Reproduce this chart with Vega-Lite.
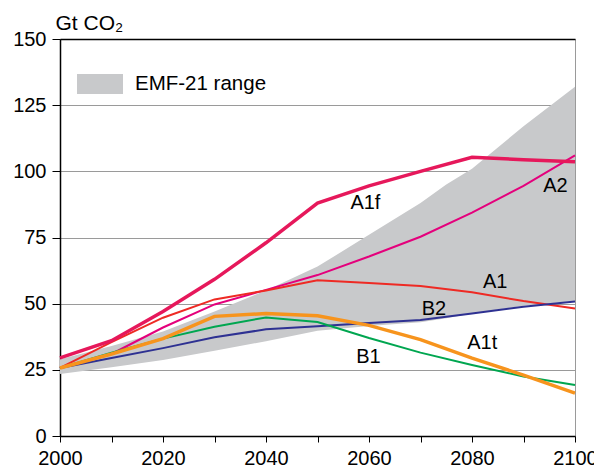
{
  "$schema": "https://vega.github.io/schema/vega-lite/v6.json",
  "width": 515,
  "height": 397,
  "autosize": {"type": "none"},
  "padding": {"left": 60, "top": 39, "right": 19, "bottom": 36},
  "background": "white",
  "config": {
    "font": "Liberation Sans",
    "view": {"stroke": "#9a9a9a", "strokeWidth": 1},
    "axis": {"labelFont": "Liberation Sans", "titleFont": "Liberation Sans", "labelColor": "black", "titleColor": "black"}
  },
  "datasets": {
    "band": [
      {"year": 2000, "lo": 23.4, "hi": 29},
      {"year": 2010, "lo": 26, "hi": 34},
      {"year": 2020, "lo": 28.7, "hi": 39.5},
      {"year": 2030, "lo": 32.2, "hi": 47},
      {"year": 2040, "lo": 35.8, "hi": 55},
      {"year": 2050, "lo": 39.8, "hi": 64},
      {"year": 2060, "lo": 41.6, "hi": 76},
      {"year": 2070, "lo": 43, "hi": 88},
      {"year": 2075, "lo": 44.5, "hi": 95},
      {"year": 2080, "lo": 46.3, "hi": 101},
      {"year": 2090, "lo": 49.2, "hi": 117},
      {"year": 2100, "lo": 51, "hi": 132}
    ],
    "lines": [
      {"series": "A1f", "year": 2000, "value": 29.5},
      {"series": "A1f", "year": 2010, "value": 36},
      {"series": "A1f", "year": 2020, "value": 47},
      {"series": "A1f", "year": 2030, "value": 59.2},
      {"series": "A1f", "year": 2040, "value": 73},
      {"series": "A1f", "year": 2050, "value": 88},
      {"series": "A1f", "year": 2060, "value": 94.5},
      {"series": "A1f", "year": 2070, "value": 100},
      {"series": "A1f", "year": 2080, "value": 105.3},
      {"series": "A1f", "year": 2090, "value": 104.4},
      {"series": "A1f", "year": 2100, "value": 103.6},
      {"series": "A2", "year": 2000, "value": 25.7},
      {"series": "A2", "year": 2010, "value": 31},
      {"series": "A2", "year": 2020, "value": 41},
      {"series": "A2", "year": 2030, "value": 49.7},
      {"series": "A2", "year": 2040, "value": 55.2},
      {"series": "A2", "year": 2050, "value": 60.8},
      {"series": "A2", "year": 2060, "value": 67.8},
      {"series": "A2", "year": 2070, "value": 75.3},
      {"series": "A2", "year": 2080, "value": 84.4},
      {"series": "A2", "year": 2090, "value": 94.5},
      {"series": "A2", "year": 2100, "value": 106},
      {"series": "A1", "year": 2000, "value": 25.7},
      {"series": "A1", "year": 2010, "value": 35.5},
      {"series": "A1", "year": 2020, "value": 44.7},
      {"series": "A1", "year": 2030, "value": 51.6},
      {"series": "A1", "year": 2040, "value": 55},
      {"series": "A1", "year": 2050, "value": 58.8},
      {"series": "A1", "year": 2060, "value": 57.8},
      {"series": "A1", "year": 2070, "value": 56.7},
      {"series": "A1", "year": 2080, "value": 54.3},
      {"series": "A1", "year": 2090, "value": 51},
      {"series": "A1", "year": 2100, "value": 48.2},
      {"series": "B2", "year": 2000, "value": 25.7},
      {"series": "B2", "year": 2010, "value": 29.5},
      {"series": "B2", "year": 2020, "value": 33.2},
      {"series": "B2", "year": 2030, "value": 37.3},
      {"series": "B2", "year": 2040, "value": 40.3},
      {"series": "B2", "year": 2050, "value": 41.5},
      {"series": "B2", "year": 2060, "value": 42.7},
      {"series": "B2", "year": 2070, "value": 43.8},
      {"series": "B2", "year": 2080, "value": 46.3},
      {"series": "B2", "year": 2090, "value": 48.8},
      {"series": "B2", "year": 2100, "value": 50.8},
      {"series": "B1", "year": 2000, "value": 25.7},
      {"series": "B1", "year": 2010, "value": 31.5},
      {"series": "B1", "year": 2020, "value": 36.8},
      {"series": "B1", "year": 2030, "value": 41.3},
      {"series": "B1", "year": 2040, "value": 44.8},
      {"series": "B1", "year": 2050, "value": 43.1},
      {"series": "B1", "year": 2060, "value": 37},
      {"series": "B1", "year": 2070, "value": 31.5},
      {"series": "B1", "year": 2080, "value": 26.8},
      {"series": "B1", "year": 2090, "value": 22.5},
      {"series": "B1", "year": 2100, "value": 19.3},
      {"series": "A1t", "year": 2000, "value": 25.7},
      {"series": "A1t", "year": 2010, "value": 31},
      {"series": "A1t", "year": 2020, "value": 36.8},
      {"series": "A1t", "year": 2030, "value": 45.2},
      {"series": "A1t", "year": 2040, "value": 46.3},
      {"series": "A1t", "year": 2050, "value": 45.4},
      {"series": "A1t", "year": 2060, "value": 41.8},
      {"series": "A1t", "year": 2070, "value": 36.4},
      {"series": "A1t", "year": 2080, "value": 29.4},
      {"series": "A1t", "year": 2090, "value": 23},
      {"series": "A1t", "year": 2100, "value": 16.2}
    ],
    "labels": [
      {"label": "A1f", "year": 2059.3, "value": 88.2},
      {"label": "A2", "year": 2096.2, "value": 94.5},
      {"label": "A1", "year": 2084.5, "value": 58.2},
      {"label": "B2", "year": 2072.6, "value": 48},
      {"label": "A1t", "year": 2082, "value": 35.1},
      {"label": "B1", "year": 2059.9, "value": 29.7}
    ]
  },
  "encoding": {
    "x": {
      "field": "year", "type": "quantitative",
      "scale": {"domain": [2000, 2100], "nice": false, "zero": false},
      "axis": {
        "title": null, "values": [2000, 2010, 2020, 2030, 2040, 2050, 2060, 2070, 2080, 2090, 2100],
        "labelExpr": "datum.value % 20 === 0 ? datum.label : ''",
        "format": "d", "grid": false,
        "domainColor": "black", "domainWidth": 1.5,
        "tickColor": "black", "tickSize": 6, "tickWidth": 1,
        "labelFontSize": 20, "labelPadding": 6, "labelFlush": false, "labelOverlap": false
      }
    }
  },
  "layer": [
    {
      "data": {"name": "band"},
      "mark": {"type": "area", "opacity": 1},
      "encoding": {
        "y": {
          "field": "hi", "type": "quantitative",
          "scale": {"domain": [0, 150], "nice": false},
          "axis": {
            "title": "Gt CO₂", "titleAngle": 0, "titleAlign": "left", "titleBaseline": "alphabetic",
            "titleX": -5, "titleY": -10, "titleFontSize": 21, "titleFontWeight": "normal",
            "values": [0, 25, 50, 75, 100, 125, 150],
            "grid": true,
            "gridColor": {"condition": {"test": "datum.value === 150", "value": "black"}, "value": "#9a9a9a"},
            "gridWidth": {"condition": {"test": "datum.value === 150", "value": 1.5}, "value": 1},
            "domainColor": "black", "domainWidth": 1.5,
            "tickColor": "black", "tickSize": 8, "tickWidth": 1,
            "labelFontSize": 20, "labelPadding": 6
          }
        },
        "y2": {"field": "lo"},
        "fill": {
          "datum": "EMF-21 range", "type": "nominal",
          "scale": {"range": ["#c8c9cb"]},
          "legend": {
            "title": null, "orient": "none", "legendX": 17, "legendY": 22,
            "symbolType": "M-1,-0.435H1V0.435H-1Z", "symbolSize": 2116,
            "symbolStrokeWidth": 0, "symbolOpacity": 1,
            "labelFontSize": 20.5, "labelOffset": 12, "labelFont": "Liberation Sans", "labelColor": "black",
            "padding": 0
          }
        }
      }
    },
    {
      "data": {"name": "lines"},
      "transform": [{"filter": "datum.series !== 'A1f' && datum.series !== 'A1t'"}],
      "mark": {"type": "line", "strokeWidth": 2},
      "encoding": {
        "y": {"field": "value", "type": "quantitative"},
        "color": {
          "field": "series", "type": "nominal", "legend": null,
          "scale": {"domain": ["A1f", "A2", "A1", "B2", "B1", "A1t"], "range": ["#e6185b", "#e4007c", "#ee2a24", "#2e3192", "#00a650", "#f7941d"]}
        }
      }
    },
    {
      "data": {"name": "lines"},
      "transform": [{"filter": "datum.series === 'A1f' || datum.series === 'A1t'"}],
      "mark": {"type": "line", "strokeWidth": 3.5},
      "encoding": {
        "y": {"field": "value", "type": "quantitative"},
        "color": {"field": "series", "type": "nominal", "legend": null}
      }
    },
    {
      "data": {"name": "labels"},
      "mark": {"type": "text", "fontSize": 20, "font": "Liberation Sans", "color": "black", "align": "center", "baseline": "middle"},
      "encoding": {
        "y": {"field": "value", "type": "quantitative"},
        "text": {"field": "label"}
      }
    }
  ]
}
